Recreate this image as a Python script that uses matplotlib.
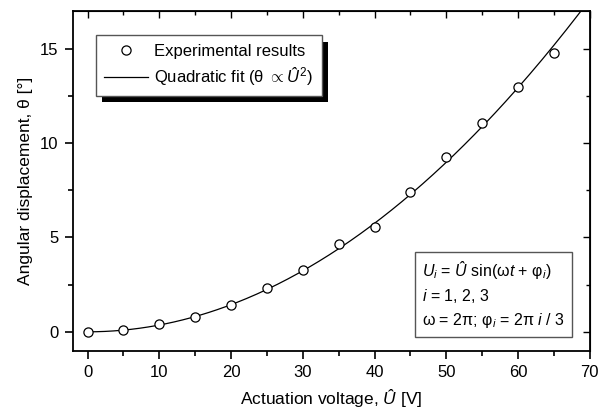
import numpy as np
import matplotlib
matplotlib.use('Agg')
import matplotlib.pyplot as plt
import matplotlib.patheffects as pe
from matplotlib.ticker import MultipleLocator

plt.rcParams['font.family'] = ['Liberation Sans', 'DejaVu Sans']
plt.rcParams['mathtext.fontset'] = 'custom'
plt.rcParams['mathtext.rm'] = 'Liberation Sans'
plt.rcParams['mathtext.it'] = 'Liberation Sans:italic'
plt.rcParams['mathtext.bf'] = 'Liberation Sans:bold'

# data
tension = [0, 5, 10, 15, 20, 25, 30, 35, 40, 45, 50, 55, 60, 65]
angle = [0.0, 0.07, 0.42, 0.81, 1.40, 2.33, 3.25, 4.66, 5.55, 7.39, 9.24, 11.06, 12.97, 14.79]

x = np.array(tension, dtype=float)
y = np.array(angle)
# fit quadratique theta = a * U^2
a = np.sum(x**2 * y) / np.sum(x**4)
x_fit = np.linspace(0, 72, 300)
y_fit = a * x_fit**2

fig = plt.figure(figsize=(6, 4.17), dpi=100)
ax = fig.add_axes([0.122, 0.159, 0.861, 0.815])

ax.plot(x_fit, y_fit, color='black', lw=0.9, label=r'Quadratic fit (θ $\propto\mathit{Û}^2$)', zorder=2)
ax.plot(x, y, 'o', mfc='white', mec='black', ms=6.6, mew=0.9, label='Experimental results', zorder=3)

ax.set_xlim(-2, 70)
ax.set_ylim(-1, 17)
ax.xaxis.set_major_locator(MultipleLocator(10))
ax.xaxis.set_minor_locator(MultipleLocator(5))
ax.yaxis.set_major_locator(MultipleLocator(5))
ax.yaxis.set_minor_locator(MultipleLocator(2.5))
ax.tick_params(which='both', direction='out', labelsize=12, width=1.2, pad=5)
ax.tick_params(which='major', length=5.5)
ax.tick_params(which='minor', length=3.5)
for s in ax.spines.values():
    s.set_linewidth(1.3)

# ticks internes en haut et a droite
ax2 = ax.secondary_xaxis('top')
ax2.xaxis.set_major_locator(MultipleLocator(10))
ax2.xaxis.set_minor_locator(MultipleLocator(5))
ax2.tick_params(which='both', direction='in', labeltop=False, width=1.0)
ax2.tick_params(which='major', length=5)
ax2.tick_params(which='minor', length=3)
ay2 = ax.secondary_yaxis('right')
ay2.yaxis.set_major_locator(MultipleLocator(5))
ay2.yaxis.set_minor_locator(MultipleLocator(2.5))
ay2.tick_params(which='both', direction='in', labelright=False, width=1.0)
ay2.tick_params(which='major', length=5)
ay2.tick_params(which='minor', length=3)

ax.set_xlabel(r'Actuation voltage, $\mathit{Û}$ [V]', fontsize=12.5, labelpad=5)
ax.set_ylabel('Angular displacement, θ [°]', fontsize=12.5, labelpad=5)

h, l = ax.get_legend_handles_labels()
leg = ax.legend(h[::-1], l[::-1], loc='upper left', bbox_to_anchor=(0.044, 0.928),
                borderaxespad=0, fancybox=False, fontsize=12, handlelength=2.6,
                borderpad=0.5, labelspacing=0.4, handletextpad=0.4)
frame = leg.get_frame()
frame.set_edgecolor('#555555')
frame.set_linewidth(1.0)
frame.set_alpha(1)
frame.set_path_effects([pe.SimplePatchShadow(offset=(4.5, -4.5), shadow_rgbFace='black', alpha=1), pe.Normal()])

txt = (r'$U_i$ = $\mathit{Û}$ sin(ω$t$ + φ$_i$)' + '\n'
       + r'$i$ = 1, 2, 3' + '\n'
       + r'ω = 2π; φ$_i$ = 2π $i$ / 3')
ax.text(0.676, 0.062, txt, transform=ax.transAxes, fontsize=11.5, ha='left', va='bottom',
        linespacing=1.4,
        bbox=dict(boxstyle='square,pad=0.45', fc='white', ec='#555555', lw=1.0))

fig.savefig('out.png', dpi=100)
